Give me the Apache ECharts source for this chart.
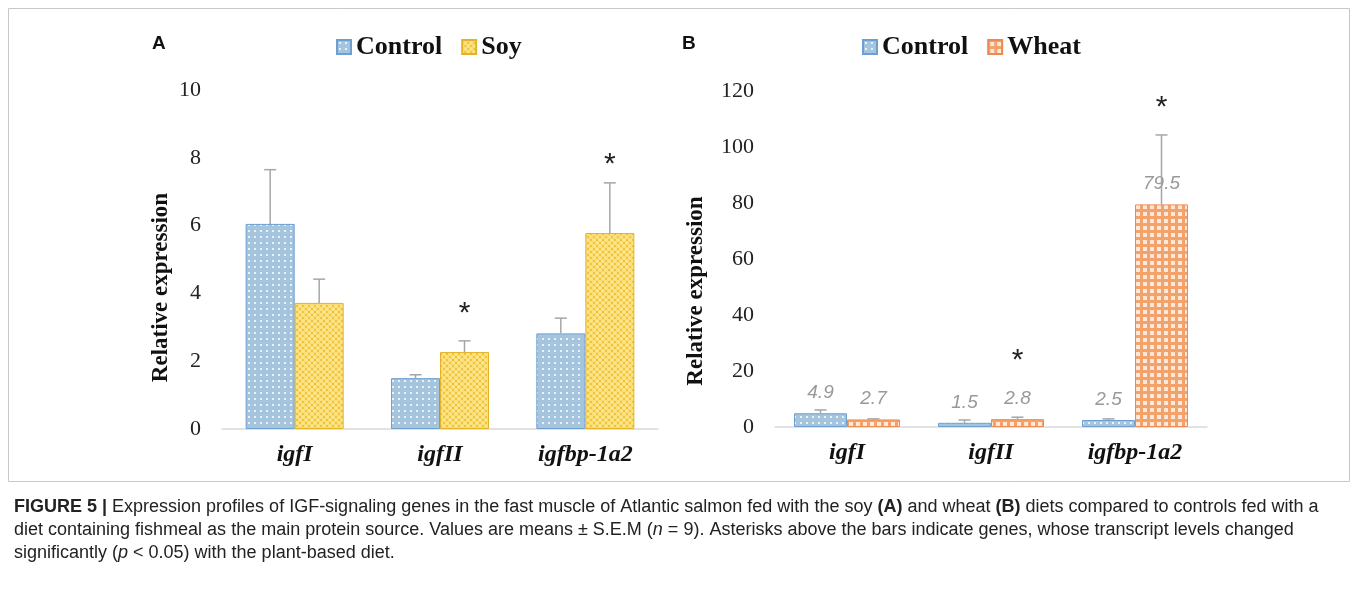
<!DOCTYPE html>
<html>
<head>
<meta charset="utf-8">
<script src="https://cdn.jsdelivr.net/npm/echarts@6/dist/echarts.min.js"></script>
<style>
  html, body { margin: 0; padding: 0; background: #fff; }
  #chart { width: 1357px; height: 589px; }
</style>
</head>
<body>
<div id="chart"></div>
<script>
  // data
  const genes = ['igfI', 'igfII', 'igfbp-1a2'];
  // panel A: control vs soy
  const controlA = [6.05, 1.5, 2.82];
  const controlASem = [1.6, 0.1, 0.45];
  const soyA = [3.72, 2.27, 5.78];
  const soyASem = [0.7, 0.33, 1.48];
  const soyStar = [null, 3.6, 8.0];
  const ticksA = { min: 0, max: 10, interval: 2 };
  // panel B: control vs wheat
  const controlB = [4.9, 1.5, 2.5];
  const controlBSem = [1.2, 1.0, 0.4];
  const wheatB = [2.7, 2.8, 79.5];
  const wheatBSem = [0.2, 0.7, 24.8];
  const wheatStar = [null, 26, 116.5];
  const ticksB = { min: 0, max: 120, interval: 20 };

  const serif = 'Liberation Serif';

  // little canvas tiles for the hatched fills
  function tile(w, h, draw) {
    const c = document.createElement('canvas');
    c.width = w; c.height = h;
    draw(c.getContext('2d'));
    return c;
  }
  const dotFill = { image: tile(6, 6, (g) => {
    g.fillStyle = '#a4c5dd'; g.fillRect(0, 0, 6, 6);
    g.fillStyle = 'rgba(255,255,255,0.95)';
    g.beginPath(); g.arc(3, 3, 1.1, 0, Math.PI * 2); g.fill();
  }), repeat: 'repeat' };
  const circleFill = { image: tile(6, 6, (g) => {
    g.fillStyle = '#f1c233'; g.fillRect(0, 0, 6, 6);
    g.fillStyle = '#fce48c';
    [[0, 0], [6, 0], [0, 6], [6, 6], [3, 3]].forEach(([x, y]) => {
      g.beginPath(); g.arc(x, y, 2.1, 0, Math.PI * 2); g.fill();
    });
  }), repeat: 'repeat' };
  const checkFill = { image: tile(7, 7, (g) => {
    g.fillStyle = '#f3a26b'; g.fillRect(0, 0, 7, 7);
    g.fillStyle = '#fde9da'; g.fillRect(2, 2, 4, 4);
  }), repeat: 'repeat' };

  const controlStyle = { color: dotFill, borderColor: '#6d9fd0', borderWidth: 1 };
  const soyStyle = { color: circleFill, borderColor: '#e3b327', borderWidth: 1 };
  const wheatStyle = { color: checkFill, borderColor: '#ee8a4f', borderWidth: 1 };

  // error bar (upper only) + optional asterisk, drawn over a grouped bar
  function errSeries(axis, means, sems, stars, offset) {
    return {
      type: 'custom',
      xAxisIndex: axis,
      yAxisIndex: axis,
      z: 5,
      silent: true,
      encode: { x: 0, y: [1, 2] },
      data: means.map((m, i) => [i, m, m + sems[i], stars[i] == null ? NaN : stars[i]]),
      renderItem: function (params, api) {
        const i = api.value(0);
        const base = api.coord([i, api.value(1)]);
        const top = api.coord([i, api.value(2)]);
        const x = base[0] + offset;
        const lineStyle = { stroke: '#a6a6a6', lineWidth: 1.5 };
        const children = [
          { type: 'line', shape: { x1: x, y1: base[1], x2: x, y2: top[1] }, style: lineStyle },
          { type: 'line', shape: { x1: x - 6, y1: top[1], x2: x + 6, y2: top[1] }, style: lineStyle }
        ];
        const s = api.value(3);
        if (!isNaN(s)) {
          const p = api.coord([i, s]);
          children.push({
            type: 'text', x: x, y: p[1] + 7,
            style: { text: '*', font: '30px "Liberation Sans"', fill: '#222', align: 'center', verticalAlign: 'middle' }
          });
        }
        return { type: 'group', children: children };
      }
    };
  }

  function xAx(grid) {
    return {
      type: 'category', gridIndex: grid, data: genes,
      axisLine: { lineStyle: { color: '#d9d9d9', width: 1.5 } },
      axisTick: { show: false },
      axisLabel: { margin: 14, fontFamily: serif, fontStyle: 'italic', fontWeight: 'bold', fontSize: 24, color: '#111' }
    };
  }
  function yAx(grid, t, gap, pad) {
    return {
      type: 'value', gridIndex: grid, min: t.min, max: t.max, interval: t.interval,
      name: 'Relative expression', nameLocation: 'middle', nameGap: gap,
      nameTextStyle: { fontFamily: serif, fontWeight: 'bold', fontSize: 23, color: '#111', padding: [0, pad, 0, 0] },
      axisLine: { show: false }, axisTick: { show: false }, splitLine: { show: false },
      axisLabel: { margin: 21, fontFamily: serif, fontSize: 22, color: '#222' }
    };
  }
  const legendText = { fontFamily: serif, fontWeight: 'bold', fontSize: 26, color: '#111' };

  const myChart = echarts.init(document.getElementById('chart'));
  myChart.setOption({
    animation: false,
    grid: [
      { left: 222, right: 699, top: 90, bottom: 160 },
      { left: 775, right: 150, top: 91, bottom: 162 }
    ],
    legend: [
      { data: ['Control', 'Soy'], left: 331, top: 29, icon: 'rect', itemWidth: 14, itemHeight: 14, itemGap: 19, textStyle: legendText },
      { data: ['Control', 'Wheat'], left: 857, top: 29, icon: 'rect', itemWidth: 14, itemHeight: 14, itemGap: 19, textStyle: legendText }
    ],
    xAxis: [xAx(0), xAx(1)],
    yAxis: [yAx(0, ticksA, 49, 56), yAx(1, ticksB, 67, 64)],
    series: [
      { name: 'Control', type: 'bar', xAxisIndex: 0, yAxisIndex: 0, barWidth: 49, barGap: '0%', itemStyle: controlStyle, data: controlA },
      { name: 'Soy', type: 'bar', xAxisIndex: 0, yAxisIndex: 0, barWidth: 49, barGap: '0%', itemStyle: soyStyle, data: soyA },
      errSeries(0, controlA, controlASem, [null, null, null], -24.5),
      errSeries(0, soyA, soyASem, soyStar, 24.5),
      {
        name: 'Control', type: 'bar', xAxisIndex: 1, yAxisIndex: 1, barWidth: 53, barGap: '0%', itemStyle: controlStyle, data: controlB,
        label: { show: true, position: 'top', distance: 11, fontFamily: 'Liberation Sans', fontStyle: 'italic', fontSize: 19, color: '#999999' }
      },
      {
        name: 'Wheat', type: 'bar', xAxisIndex: 1, yAxisIndex: 1, barWidth: 53, barGap: '0%', itemStyle: wheatStyle, data: wheatB,
        label: { show: true, position: 'top', distance: 11, fontFamily: 'Liberation Sans', fontStyle: 'italic', fontSize: 19, color: '#999999' }
      },
      errSeries(1, controlB, controlBSem, [null, null, null], -26.5),
      errSeries(1, wheatB, wheatBSem, wheatStar, 26.5)
    ],
    graphic: [
      { type: 'rect', shape: { x: 8.5, y: 8.5, width: 1341, height: 473 }, style: { fill: null, stroke: '#c8c8c8', lineWidth: 1 }, silent: true },
      { type: 'text', x: 152, y: 44, style: { text: 'A', font: 'bold 19px "Liberation Sans"', fill: '#111', verticalAlign: 'middle' } },
      { type: 'text', x: 682, y: 44, style: { text: 'B', font: 'bold 19px "Liberation Sans"', fill: '#111', verticalAlign: 'middle' } },
      {
        type: 'text', x: 14, y: 507,
        style: {
          text: '{b|FIGURE 5 |} Expression profiles of IGF-signaling genes in the fast muscle of Atlantic salmon fed with the soy {b|(A)} and wheat {b|(B)} diets compared to controls fed with a',
          font: '18px "Liberation Sans"', fill: '#222', verticalAlign: 'middle',
          rich: { b: { fontWeight: 'bold', fontSize: 18, fontFamily: 'Liberation Sans', fill: '#222' } }
        }
      },
      {
        type: 'text', x: 14, y: 530,
        style: {
          text: 'diet containing fishmeal as the main protein source. Values are means \u00b1 S.E.M ({i|n} = 9). Asterisks above the bars indicate genes, whose transcript levels changed',
          font: '18px "Liberation Sans"', fill: '#222', verticalAlign: 'middle',
          rich: { i: { fontStyle: 'italic', fontSize: 18, fontFamily: 'Liberation Sans', fill: '#222' } }
        }
      },
      {
        type: 'text', x: 14, y: 553,
        style: {
          text: 'significantly ({i|p} < 0.05) with the plant-based diet.',
          font: '18px "Liberation Sans"', fill: '#222', verticalAlign: 'middle',
          rich: { i: { fontStyle: 'italic', fontSize: 18, fontFamily: 'Liberation Sans', fill: '#222' } }
        }
      }
    ]
  });

  window.addEventListener('resize', () => {
    myChart && myChart.resize();
  });
</script>
</body>
</html>
